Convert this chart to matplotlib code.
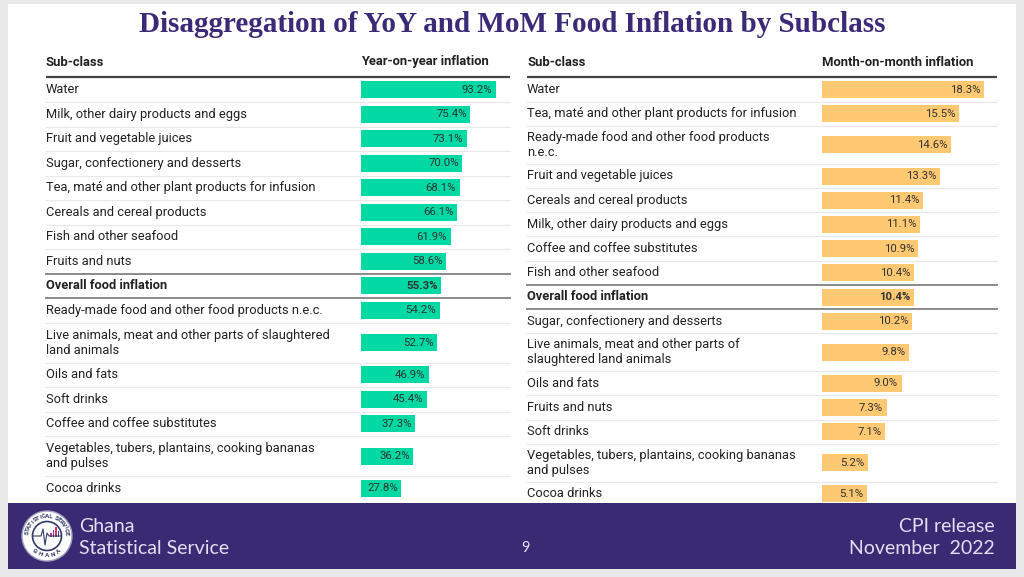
import numpy as np
import matplotlib
matplotlib.use("Agg")
import matplotlib.pyplot as plt
from matplotlib.patches import Rectangle, Circle

# data
yoy_labels = ["Water", "Milk, other dairy products and eggs", "Fruit and vegetable juices",
              "Sugar, confectionery and desserts", "Tea, maté and other plant products for infusion",
              "Cereals and cereal products", "Fish and other seafood", "Fruits and nuts",
              "Overall food inflation", "Ready-made food and other food products n.e.c.",
              "Live animals, meat and other parts of slaughtered\nland animals",
              "Oils and fats", "Soft drinks", "Coffee and coffee substitutes",
              "Vegetables, tubers, plantains, cooking bananas\nand pulses", "Cocoa drinks"]
yoy_values = [93.2, 75.4, 73.1, 70.0, 68.1, 66.1, 61.9, 58.6, 55.3, 54.2, 52.7, 46.9, 45.4, 37.3, 36.2, 27.8]

mom_labels = ["Water", "Tea, maté and other plant products for infusion",
              "Ready-made food and other food products\nn.e.c.", "Fruit and vegetable juices",
              "Cereals and cereal products", "Milk, other dairy products and eggs",
              "Coffee and coffee substitutes", "Fish and other seafood", "Overall food inflation",
              "Sugar, confectionery and desserts",
              "Live animals, meat and other parts of\nslaughtered land animals",
              "Oils and fats", "Fruits and nuts", "Soft drinks",
              "Vegetables, tubers, plantains, cooking bananas\nand pulses", "Cocoa drinks"]
mom_values = [18.3, 15.5, 14.6, 13.3, 11.4, 11.1, 10.9, 10.4, 10.4, 10.2, 9.8, 9.0, 7.3, 7.1, 5.2, 5.1]

OVERALL = "Overall food inflation"
PURPLE = "#3a2a74"
W, H = 1024, 577

plt.rcParams["font.family"] = ["Roboto", "DejaVu Sans"]

fig = plt.figure(figsize=(W / 100, H / 100), dpi=100, facecolor="#e9e9e9")
bg = fig.add_axes([0, 0, 1, 1])
bg.set_xlim(0, W)
bg.set_ylim(H, 0)
bg.axis("off")

# slide + footer band
bg.add_patch(Rectangle((8, 4), 1008, 499, facecolor="white", edgecolor="none"))
bg.add_patch(Rectangle((8, 503), 1008, 66, facecolor=PURPLE, edgecolor="none"))

bg.text(512, 25, "Disaggregation of YoY and MoM Food Inflation by Subclass",
        ha="center", va="center", fontsize=21, fontweight="bold",
        family="Liberation Serif", color="#3b2a78")


def draw_table(labels, values, x0, x1, bar_x, px_per_unit, header, color, single, double):
    bg.text(x0, 62, "Sub-class", ha="left", va="center", fontsize=9.4, fontweight="bold", color="#222")
    bg.text(bar_x, 62, header, ha="left", va="center", fontsize=9.4, fontweight="bold", color="#222")
    bg.plot([x0, x1], [77, 77], color="#444", lw=1.6, solid_capstyle="butt")

    # row layout
    centers, tops = [], []
    y = 77.5
    for lab in labels:
        h = double if "\n" in lab else single
        tops.append(y)
        centers.append(y + h / 2)
        y += h
    for i, lab in enumerate(labels):
        bold = lab == OVERALL
        bg.text(x0, centers[i], lab, ha="left", va="center", fontsize=9.3,
                fontweight="bold" if bold else "normal", color="#222", linespacing=1.2)
        if i > 0:
            prev_bold = labels[i - 1] == OVERALL
            dark = bold or prev_bold
            bg.plot([x0, x1], [tops[i], tops[i]], color="#8a8a8a" if dark else "#e8e8e8",
                    lw=1.4 if dark else 0.8)

    # bars in data units
    ax = fig.add_axes([bar_x / W, 0, (x1 - bar_x) / W, 1])
    ax.set_xlim(0, (x1 - bar_x) / px_per_unit)
    ax.set_ylim(H, 0)
    ax.axis("off")
    ax.barh(centers, values, height=17, color=color, edgecolor="none")
    for c, v, lab in zip(centers, values, labels):
        ax.annotate(f"{v:.1f}%", (v, c), xytext=(-2.5, 0), textcoords="offset points",
                    ha="right", va="center", fontsize=8.2, color="#333",
                    fontweight="bold" if lab == OVERALL else "normal")


draw_table(yoy_labels, yoy_values, 46, 510, 361, 1.449, "Year-on-year inflation", "#00d9a3", 24.5, 40)
draw_table(mom_labels, mom_values, 527, 997, 822, 8.84, "Month-on-month inflation", "#ffc872", 24.2, 38)

# footer
txt_col = "#e4def2"
ff = "Lato"
bg.text(79, 526, "Ghana", ha="left", va="center", fontsize=14, color=txt_col, family=ff)
bg.text(79, 549, "Statistical Service", ha="left", va="center", fontsize=14, color=txt_col, family=ff)
bg.text(525, 548, "9", ha="center", va="center", fontsize=10.5, color=txt_col, family=ff)
bg.text(995, 526, "CPI release", ha="right", va="center", fontsize=14, color=txt_col, family=ff)
bg.text(995, 549, "November  2022", ha="right", va="center", fontsize=14, color=txt_col, family=ff)

# simplified logo
cx, cy = 47, 536
bg.add_patch(Circle((cx, cy), 25, facecolor="white", edgecolor="#9aa0c0", lw=1))
bg.add_patch(Circle((cx, cy), 14.5, facecolor="white", edgecolor="#2f3a6a", lw=1.2))
bg.plot([cx - 14, cx - 6, cx - 4, cx - 2, cx, cx + 2, cx + 14],
        [cy, cy, cy - 7, cy + 9, cy - 3, cy, cy], color="#2f3a6a", lw=0.8)
for dx, hgt, col in [(3, 4, "#d6336c"), (5.5, 7, "#6a3fa0"), (8, 10, "#d6336c"), (10.5, 6, "#3a4a8a")]:
    bg.add_patch(Rectangle((cx + dx, cy + 1 - hgt), 1.8, hgt, facecolor=col, edgecolor="none"))
ring = "STATISTICAL SERVICE"
for k, ch in enumerate(ring):
    ang = np.deg2rad(172 - k * 164 / (len(ring) - 1))
    bg.text(cx + 19.8 * np.cos(ang), cy - 19.8 * np.sin(ang), ch, ha="center", va="center",
            fontsize=4.6, fontweight="bold", color="#2f3a6a", rotation=np.rad2deg(ang) - 90)
for k, ch in enumerate("GHANA"):
    ang = np.deg2rad(232 + k * 76 / 4)
    bg.text(cx + 19.8 * np.cos(ang), cy - 19.8 * np.sin(ang), ch, ha="center", va="center",
            fontsize=4.6, fontweight="bold", color="#2f3a6a", rotation=np.rad2deg(ang) + 90)

fig.savefig("out.png", dpi=100, facecolor=fig.get_facecolor())
